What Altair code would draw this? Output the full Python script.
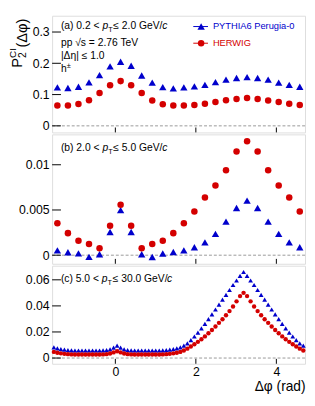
import math
import pandas as pd
import altair as alt

FONT = "Liberation Sans"
BLUE = "#0000cc"
RED = "#d40000"

# ---------------- data ----------------
x_coarse = [-math.pi / 2 + (i + 0.5) * math.pi / 12 for i in range(24)]
x_fine = [-math.pi / 2 + (i + 0.5) * math.pi / 36 for i in range(72)]

pythia_a = [0.123, 0.121, 0.125, 0.139, 0.162, 0.190, 0.205, 0.192, 0.161, 0.138, 0.124, 0.120,
            0.123, 0.126, 0.131, 0.140, 0.148, 0.153, 0.156, 0.153, 0.148, 0.138, 0.131, 0.125]
herwig_a = [0.065, 0.065, 0.070, 0.082, 0.105, 0.130, 0.143, 0.130, 0.105, 0.081, 0.069, 0.065,
            0.065, 0.067, 0.071, 0.076, 0.082, 0.086, 0.089, 0.086, 0.081, 0.076, 0.071, 0.067]

pythia_b = [0.00053, 0.00033, 0.00020, -0.00018, 0.00010, 0.00257, 0.00498, 0.00257, 0.00010, -0.00020,
            0.00019, 0.00035, 0.00053, 0.00088, 0.00141, 0.00236, 0.00371, 0.00522, 0.00604, 0.00522,
            0.00371, 0.00236, 0.00141, 0.00088]
herwig_b = [0.00353, 0.00244, 0.00159, 0.00124, 0.00077, 0.00325, 0.00558, 0.00325, 0.00077, 0.00124,
            0.00159, 0.00244, 0.00353, 0.00484, 0.00639, 0.00770, 0.00940, 0.01147, 0.01260, 0.01147,
            0.00940, 0.00770, 0.00639, 0.00484]

pythia_c = [0.0082, 0.0074, 0.0068, 0.0064, 0.0061, 0.0059, 0.0058, 0.0058, 0.0058, 0.0058,
            0.0058, 0.0058, 0.0058, 0.0058, 0.0059, 0.0061, 0.0067, 0.0080, 0.0095, 0.0080,
            0.0067, 0.0061, 0.0059, 0.0058, 0.0058, 0.0058, 0.0058, 0.0058, 0.0058, 0.0058,
            0.0058, 0.0059, 0.0061, 0.0064, 0.0068, 0.0074, 0.0082, 0.0095, 0.0113, 0.0137,
            0.0165, 0.0195, 0.0228, 0.0262, 0.0298, 0.0335, 0.0372, 0.0410, 0.0448, 0.0485,
            0.0522, 0.0560, 0.0595, 0.0630, 0.0660, 0.0630, 0.0595, 0.0560, 0.0522, 0.0485,
            0.0448, 0.0410, 0.0372, 0.0335, 0.0298, 0.0262, 0.0228, 0.0195, 0.0165, 0.0137,
            0.0113, 0.0095]
herwig_c = [0.0047, 0.0041, 0.0036, 0.0032, 0.0030, 0.0028, 0.0027, 0.0027, 0.0027, 0.0027,
            0.0027, 0.0027, 0.0027, 0.0027, 0.0028, 0.0030, 0.0035, 0.0043, 0.0052, 0.0043,
            0.0035, 0.0030, 0.0028, 0.0027, 0.0027, 0.0027, 0.0027, 0.0027, 0.0027, 0.0027,
            0.0027, 0.0028, 0.0030, 0.0032, 0.0036, 0.0041, 0.0047, 0.0058, 0.0072, 0.0088,
            0.0106, 0.0124, 0.0144, 0.0166, 0.0190, 0.0215, 0.0242, 0.0270, 0.0298, 0.0328,
            0.0360, 0.0395, 0.0435, 0.0475, 0.0500, 0.0475, 0.0435, 0.0395, 0.0360, 0.0328,
            0.0298, 0.0270, 0.0242, 0.0215, 0.0190, 0.0166, 0.0144, 0.0124, 0.0106, 0.0088,
            0.0072, 0.0058]

yticks_a = [0, 0.1, 0.2, 0.3]
yticks_b = [0, 0.005, 0.01]
yticks_c = [0, 0.02, 0.04, 0.06]
xticks = [0, 2, 4]

labels_gen = ["PYTHIA6 Perugia-0", "HERWIG"]

# ---------------- layout constants ----------------
W = 258
XDOM = [-math.pi / 2, 3 * math.pi / 2]

CW = {' ': 278, '(': 333, ')': 333, 'c': 500, '.': 278, '<': 584, '≤': 549, 'T': 611,
      'G': 778, 'V': 667, '/': 278, 's': 500, '√': 549, '=': 584, '|': 260, 'Δ': 612,
      'P': 667, 'C': 722, 'I': 278, 'φ': 650, 'h': 556, '±': 584}


def tw(t, size):
    return sum(CW.get(ch, 556) for ch in t) * size / 1000.0


def rich(segs, x0, y0, angle=0):
    """segs: (text, size, italic, shift, color, width_factor)"""
    out = []
    pos = 0.0
    for txt, size, italic, shift, color, fac in segs:
        if angle == 0:
            xx, yy = x0 + pos, y0 + shift
        else:
            xx, yy = x0 + shift, y0 - pos
        kw = dict(align="left", baseline="alphabetic", font=FONT, fontSize=size,
                  fontStyle="italic" if italic else "normal", color=color)
        if angle:
            kw["angle"] = angle
        out.append(alt.Chart(pd.DataFrame({"t": [txt]})).mark_text(**kw).encode(
            x=alt.value(xx), y=alt.value(yy), text="t:N"))
        pos += tw(txt, size) * fac
    return out


def panel(xs, pyth, herw, ydom, yvals, H, tsize, csize, show_x, extra):
    xaxis = None
    if show_x:
        xaxis = alt.Axis(values=xticks, format="~g", ticks=False, domain=False, grid=False,
                         labelFontSize=12.5, labelPadding=2, labelFont=FONT, labelColor="black",
                         title="Δφ (rad)", titleAnchor="end", titleFontSize=14,
                         titleFontWeight="normal", titlePadding=2, titleFont=FONT, titleColor="black")
    xenc = alt.X("x:Q", scale=alt.Scale(domain=XDOM, nice=False, zero=False), axis=xaxis)
    yenc = alt.Y("y:Q", scale=alt.Scale(domain=ydom, nice=False, zero=False),
                 axis=alt.Axis(values=yvals, format="~g", ticks=False, domain=False, grid=False,
                               labelFontSize=12.5, labelPadding=3, labelFont=FONT,
                               labelColor="black", title=None))
    zero = alt.Chart(pd.DataFrame({"y": [0.0]})).mark_rule(
        color="#999999", strokeDash=[3, 2], strokeWidth=1).encode(
        y=yenc, x=alt.value(0), x2=alt.value(W))
    yt = alt.Chart(pd.DataFrame({"y": yvals})).mark_rule(color="black", strokeWidth=1).encode(
        y=yenc, x=alt.value(0), x2=alt.value(9))
    xt = alt.Chart(pd.DataFrame({"x": xticks})).mark_rule(color="black", strokeWidth=1).encode(
        x=xenc, y=alt.value(H), y2=alt.value(H - 5))
    tri = alt.Chart(pd.DataFrame({"x": xs, "y": pyth})).mark_point(
        shape="triangle-up", filled=True, size=tsize, color=BLUE, opacity=1).encode(x=xenc, y=yenc)
    circ = alt.Chart(pd.DataFrame({"x": xs, "y": herw})).mark_point(
        shape="circle", filled=True, size=csize, color=RED, opacity=1).encode(x=xenc, y=yenc)
    return alt.layer(zero, yt, xt, tri, circ, *extra).properties(width=W, height=H)


def ptlabel(tag, lo, hi, y0):
    k = "black"
    return rich([(f"({tag}) {lo} < ", 10.5, False, 0, k, 1.0), ("p", 10.5, True, 0, k, 1.0),
                 ("T", 7.5, False, 3, k, 1.15), (f" ≤ {hi} GeV/", 10.5, False, 0, k, 0.94),
                 ("c", 10.5, True, 0, k, 1.0)], 9, y0)


# legend (panel a)
leg = []
for i, (lab, col, shp, sz) in enumerate([(labels_gen[0], BLUE, "triangle-up", 56),
                                         (labels_gen[1], RED, "circle", 44)]):
    yy = 11 + i * 17
    leg.append(alt.Chart(pd.DataFrame({"a": [0]})).mark_rule(color=col, strokeWidth=1).encode(
        x=alt.value(144), x2=alt.value(159), y=alt.value(yy)))
    leg.append(alt.Chart(pd.DataFrame({"a": [0]})).mark_point(
        shape=shp, filled=True, size=sz, color=col, opacity=1).encode(x=alt.value(152), y=alt.value(yy)))
    leg.append(alt.Chart(pd.DataFrame({"t": [lab]})).mark_text(
        align="left", baseline="middle", font=FONT, fontSize=9.5, color=col).encode(
        x=alt.value(164), y=alt.value(yy), text="t:N"))

K = "black"
extra_a = ptlabel("a", "0.2", "2.0", 14)
extra_a += rich([("pp √s = 2.76 TeV", 10.5, False, 0, K, 1.0)], 9, 31)
extra_a += rich([("|Δη| ≤ 1.0", 10.5, False, 0, K, 1.0)], 9, 44)
extra_a += rich([("h", 10.5, False, 0, K, 1.0), ("±", 7.5, False, -4, K, 1.0)], 9, 57)
extra_a += leg
# y axis title  P_2^CI(Δφ)  (rotated, reading upward)
extra_a += rich([("P", 15, False, 0, K, 1.0)], -31, 53, angle=270)
extra_a += rich([("2", 10.5, False, 4, K, 1.0)], -31, 43, angle=270)
extra_a += rich([("CI", 10, False, -5.5, K, 1.05), ("(Δφ)", 15, False, 5.5, K, 1.0)], -31, 43, angle=270)

pa = panel(x_coarse, pythia_a, herwig_a, [-0.021, 0.352], yticks_a, 119, 56, 44, False, extra_a)
pb = panel(x_coarse, pythia_b, herwig_b, [-0.00095, 0.01336], yticks_b, 132, 56, 44, False,
           ptlabel("b", "2.0", "5.0", 17))
pc = panel(x_fine, pythia_c, herwig_c, [-0.0044, 0.0708], yticks_c, 100, 24, 20, True,
           ptlabel("c", "5.0", "30.0", 17))

chart = alt.vconcat(pa, pb, pc, spacing=0).properties(
    padding={"left": 0, "top": 3, "right": 0, "bottom": 0}
).configure_view(stroke="black", strokeWidth=1).configure(font=FONT)

chart.save("out.html", embed_options={"renderer": "svg", "actions": False})
